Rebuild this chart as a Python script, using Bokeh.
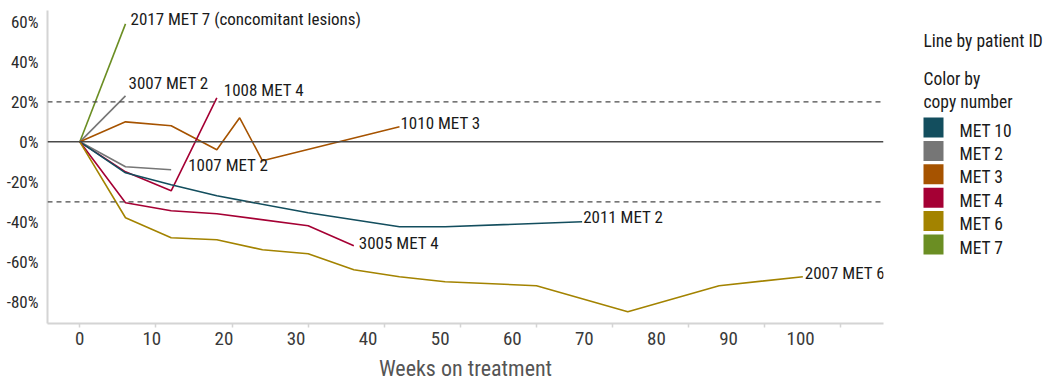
from bokeh.plotting import figure
from bokeh.models import Range1d, LinearAxis, FixedTicker, Span, ColumnDataSource
from bokeh.layouts import row, column
from bokeh.embed import file_html
from bokeh.resources import INLINE
from bokeh.core.properties import value

FONT = "Roboto Condensed, DejaVu Sans Condensed, Lato"

# copy-number categories and their colours
met_levels = ["MET 10", "MET 2", "MET 3", "MET 4", "MET 6", "MET 7"]
met_colors = ["#134e5e", "#767676", "#a65300", "#a50034", "#a38300", "#6b8e23"]

# one line per patient: id, copy-number colour group, end label
patient_ids = ["2017", "3007", "1010", "1008", "1007", "2011", "3005", "2007"]
patient_met = ["MET 7", "MET 2", "MET 3", "MET 4", "MET 2", "MET 10", "MET 4", "MET 6"]
patient_tags = ["MET 7 (concomitant lesions)", "MET 2", "MET 3", "MET 4",
                "MET 2", "MET 2", "MET 4", "MET 6"]

# weeks on treatment and % change in tumour size from baseline
weeks_2017 = [0, 6]
change_2017 = [0, 59]
weeks_3007 = [0, 6]
change_3007 = [0, 23]
weeks_1010 = [0, 6, 12, 18, 21, 24, 42]
change_1010 = [0, 10, 8, -4, 12, -9.5, 7.5]
weeks_1008 = [0, 6, 12, 18]
change_1008 = [0, -15, -24.5, 22]
weeks_1007 = [0, 6, 12]
change_1007 = [0, -12.5, -14]
weeks_2011 = [0, 6, 12, 18, 30, 42, 48, 66]
change_2011 = [0, -15.5, -21.5, -27, -35.5, -42.5, -42.5, -40]
weeks_3005 = [0, 6, 12, 18, 30, 36]
change_3005 = [0, -30.5, -34.5, -36, -42, -52]
weeks_2007 = [0, 6, 12, 18, 24, 30, 36, 42, 48, 60, 72, 84, 95]
change_2007 = [0, -38, -48, -49, -54, -56, -64, -67.5, -70, -72, -85, -72, -67.5]

patient_weeks = [weeks_2017, weeks_3007, weeks_1010, weeks_1008,
                 weeks_1007, weeks_2011, weeks_3005, weeks_2007]
patient_change = [change_2017, change_3007, change_1010, change_1008,
                  change_1007, change_2011, change_3005, change_2007]

x_ticks = list(range(0, 101, 10))
y_ticks = list(range(-80, 61, 20))
threshold_up = 20
threshold_down = -30
x_title = "Weeks on treatment"

# end-label nudges in screen pixels (same order as patient_ids)
label_dx = [5, 3, 1, 7, 17, 1, 5, 2]
label_dy = [-5, -13, -4, -8, -5, -5, -3, -4]

color_of = dict(zip(met_levels, met_colors))

# data range (weeks) and the slightly wider range the tick labels are laid out on
x_start, x_end = -4.25, 105.6
lab_start, lab_end = -4.48, 111.5


def to_label_scale(v):
    return lab_start + (v - x_start) * (lab_end - lab_start) / (x_end - x_start)


p = figure(width=900, height=354,
           x_range=Range1d(x_start, x_end), y_range=Range1d(-90.9, 65.7),
           x_axis_type=None,
           output_backend="svg", toolbar_location=None,
           min_border_left=47, min_border_right=17,
           min_border_top=10, min_border_bottom=31)
p.grid.visible = False
p.outline_line_color = None
p.background_fill_color = "white"
p.border_fill_color = "white"

# x axis: labels on the label scale, tick marks (minor) at the data positions
p.extra_x_ranges = {"labels": Range1d(lab_start, lab_end)}
xa = LinearAxis(x_range_name="labels",
                ticker=FixedTicker(ticks=x_ticks,
                                   minor_ticks=[to_label_scale(w) for w in x_ticks]))
xa.axis_line_color = "#d4d4d4"
xa.axis_line_width = 2
xa.major_tick_line_color = None
xa.major_tick_out = 0
xa.major_tick_in = 0
xa.minor_tick_line_color = "#d4d4d4"
xa.minor_tick_line_width = 1.5
xa.minor_tick_out = 4
xa.minor_tick_in = 0
xa.major_label_standoff = 4
xa.major_label_text_font = FONT
xa.major_label_text_font_size = "19px"
xa.major_label_text_color = "#3a3a3a"
p.add_layout(xa, "below")

ya = p.yaxis[0]
ya.ticker = FixedTicker(ticks=y_ticks)
ya.major_label_overrides = {v: f"{v}%" for v in y_ticks}
ya.axis_line_color = "#d4d4d4"
ya.axis_line_width = 2
ya.major_tick_line_color = None
ya.minor_tick_line_color = None
ya.major_tick_out = 0
ya.major_tick_in = 0
ya.major_label_standoff = 9
ya.major_label_text_font = FONT
ya.major_label_text_font_size = "17px"
ya.major_label_text_color = "#2a2a2a"

p.add_layout(Span(location=0, dimension="width", line_color="#4a4a4a", line_width=1.5))
for lvl in (threshold_up, threshold_down):
    p.add_layout(Span(location=lvl, dimension="width", line_color="#4a4a4a",
                      line_width=1.3, line_dash="5 4"))

for w, c, met in zip(patient_weeks, patient_change, patient_met):
    p.line(w, c, line_color=color_of[met], line_width=1.6)

labels = ColumnDataSource(dict(
    x=[w[-1] for w in patient_weeks],
    y=[c[-1] for c in patient_change],
    text=[f"{pid} {tag}" for pid, tag in zip(patient_ids, patient_tags)],
    dx=label_dx, dy=label_dy,
))
p.text(x="x", y="y", text="text", x_offset="dx", y_offset="dy", source=labels,
       text_font=value(FONT), text_font_size="17px", text_color="#1a1a1a",
       text_align="left", text_baseline="middle")

# strip under the plot holding the x-axis title, sharing the plot's x range
tf = figure(width=900, height=26, x_range=p.x_range, y_range=Range1d(26, 0),
            output_backend="svg", toolbar_location=None,
            x_axis_type=None, y_axis_type=None, min_border=0)
tf.grid.visible = False
tf.outline_line_color = None
tf.text(x=[(x_start + x_end) / 2], y=[14], text=[x_title],
        text_font=value(FONT), text_font_size="22px", text_color="#555555",
        text_align="center", text_baseline="middle")

# legend panel, drawn in pixel coordinates
lg = figure(width=143, height=380, x_range=Range1d(0, 143), y_range=Range1d(380, 0),
            output_backend="svg", toolbar_location=None,
            x_axis_type=None, y_axis_type=None, min_border=0)
lg.grid.visible = False
lg.outline_line_color = None

lg.text(x=[23, 23, 23], y=[40, 78, 101],
        text=["Line by patient ID", "Color by", "copy number"],
        text_font=value(FONT), text_font_size="17.5px", text_color="#1a1a1a",
        text_align="left", text_baseline="middle")

row_y = [127 + 23.4 * i for i in range(len(met_levels))]
lg.rect(x=[33] * len(met_levels), y=row_y, width=20, height=20,
        fill_color=met_colors, line_color=None)
lg.text(x=[59] * len(met_levels), y=[yy + 3 for yy in row_y], text=met_levels,
        text_font=value(FONT), text_font_size="17.5px", text_color="#1a1a1a",
        text_align="left", text_baseline="middle")

layout = row(column(p, tf), lg)
open("out.html", "w").write(file_html(layout, INLINE))
